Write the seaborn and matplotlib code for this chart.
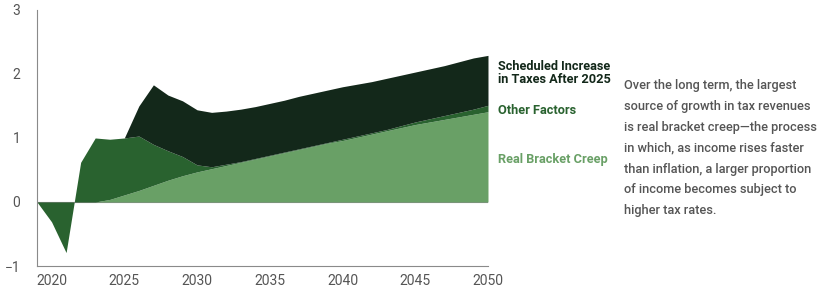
import matplotlib.pyplot as plt
import seaborn as sns

# Data (percentage points), years 2019-2050
years = list(range(2019, 2051))
real_bracket_creep = [0, 0, 0, 0, 0, 0.04, 0.11, 0.18, 0.26, 0.34, 0.41, 0.47, 0.52, 0.57,
                      0.62, 0.67, 0.72, 0.77, 0.82, 0.87, 0.92, 0.96, 1.01, 1.06, 1.11,
                      1.16, 1.21, 1.25, 1.29, 1.33, 1.37, 1.41]
other_factors = [0, -0.31, -0.79, 0.62, 1.0, 0.94, 0.89, 0.85, 0.64, 0.46, 0.30, 0.11,
                 0.03, 0.02, 0.01, 0.01, 0.01, 0.01, 0.01, 0.01, 0.01, 0.02, 0.02, 0.02,
                 0.02, 0.03, 0.04, 0.05, 0.06, 0.07, 0.08, 0.10]
scheduled_increase = [0, 0, 0, 0, 0, 0, 0, 0.47, 0.93, 0.87, 0.87, 0.86, 0.85, 0.83, 0.82,
                      0.81, 0.81, 0.81, 0.82, 0.82, 0.82, 0.82, 0.81, 0.80, 0.80, 0.79,
                      0.78, 0.78, 0.78, 0.79, 0.80, 0.78]

x_ticks = [2020, 2025, 2030, 2035, 2040, 2045, 2050]
y_ticks = [-1, 0, 1, 2, 3]

dark = "#13281a"
mid = "#29622f"
light = "#69a066"
gray = "#555555"

sns.set_style("white")
plt.rcParams["font.family"] = ["Roboto", "DejaVu Sans"]

fig = plt.figure(figsize=(8.17, 2.92), dpi=100)
ax = fig.add_axes([0.0453, 0.089, 0.552, 0.877])

# Stacked areas
base1 = real_bracket_creep
base2 = [a + b for a, b in zip(base1, other_factors)]
base3 = [a + b for a, b in zip(base2, scheduled_increase)]
ax.fill_between(years, 0, base1, color=light, linewidth=0)
ax.fill_between(years, base1, base2, color=mid, linewidth=0)
ax.fill_between(years, base2, base3, color=dark, linewidth=0)
ax.axhline(0, color="#8a8a8a", linewidth=0.8, zorder=0)

ax.set_xlim(2019, 2050)
ax.set_ylim(-1, 3)
ax.set_xticks(x_ticks)
ax.set_yticks(y_ticks)
ax.set_yticklabels(["\u22121", "0", "1", "2", "3"])
sns.despine(ax=ax)
for s in ["left", "bottom"]:
    ax.spines[s].set_color("#8a8a8a")
    ax.spines[s].set_linewidth(0.8)
ax.tick_params(axis="both", colors="#8a8a8a", labelcolor=gray, labelsize=10,
               length=4, width=0.8, direction="out")
ax.tick_params(axis="y", pad=8)
ax.tick_params(axis="x", pad=2)

# Series labels
fig.text(0.609, 0.75, "Scheduled Increase\nin Taxes After 2025", color=dark,
         fontsize=9.2, fontweight="bold", va="center", linespacing=1.05)
fig.text(0.609, 0.622, "Other Factors", color=mid, fontsize=9.2, fontweight="bold",
         va="center")
fig.text(0.609, 0.454, "Real Bracket Creep", color=light, fontsize=9.2,
         fontweight="bold", va="center")

# Annotation paragraph
note = ("Over the long term, the largest\nsource of growth in tax revenues\n"
        "is real bracket creep\u2014the process\nin which, as income rises faster\n"
        "than inflation, a larger proportion\nof income becomes subject to\n"
        "higher tax rates.")
fig.text(0.764, 0.728, note, color=gray, fontsize=9.2, fontweight="medium",
         va="top", linespacing=1.78)

plt.savefig("out.png", dpi=100)
